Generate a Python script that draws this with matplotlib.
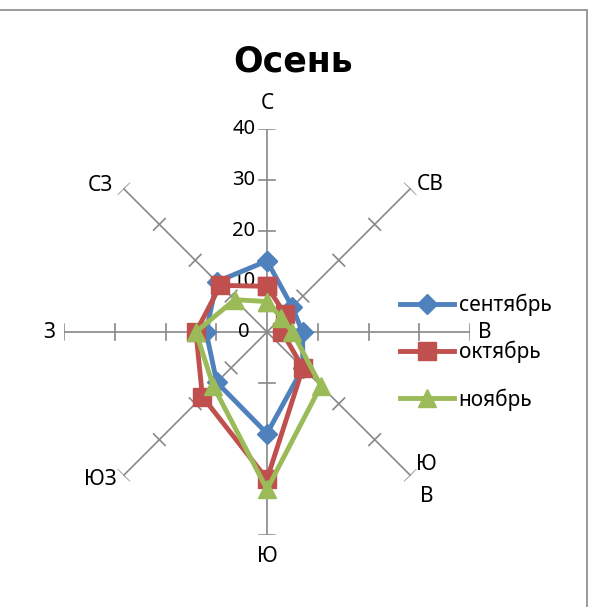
import matplotlib.pyplot as plt
import numpy as np
from matplotlib.lines import Line2D
from matplotlib.patches import Rectangle

plt.rcParams['font.family'] = ['Noto Sans', 'DejaVu Sans']

directions = ['С', 'СВ', 'В', 'ЮВ', 'Ю', 'ЮЗ', 'З', 'СЗ']
sep = [14, 7, 7, 10, 20, 14, 12, 14]
octb = [9, 5, 3, 10, 29, 18, 14, 13]
novb = [6, 4, 5, 15, 31, 15, 14, 9]
months = ['сентябрь', 'октябрь', 'ноябрь']
ticks = [0, 10, 20, 30, 40]

colors = ['#4F81BD', '#C0504D', '#9BBB59']
markers = ['D', 's', '^']
msizes = [10.5, 12.5, 13]
axis_col = '#888888'
fs = 15

fig = plt.figure(figsize=(6.05, 6.07), dpi=100)
W, H = 605, 607
cx, cy, R = 267, 332, 203
ax = fig.add_axes([(cx - R) / W, (H - cy - R) / H, 2 * R / W, 2 * R / H],
                  projection='polar')
ax.set_theta_zero_location('N')
ax.set_theta_direction(-1)
ax.set_ylim(0, 40)
ax.grid(False)
ax.set_xticks([])
ax.set_yticks([])
ax.spines['polar'].set_visible(False)
ax.patch.set_alpha(0)

theta = np.arange(len(directions)) * 2 * np.pi / len(directions)

# spokes with small cross ticks
h = 1.6
for t in theta:
    ax.plot([t, t], [0, 40], color=axis_col, lw=1.2, zorder=1)
    for r in ticks[1:]:
        rr = np.hypot(r, h)
        dt = np.arctan2(h, r)
        ax.plot([t - dt, t + dt], [rr, rr], color=axis_col, lw=1.2, zorder=1)

for r in ticks:
    ax.annotate(str(r), xy=(0, r), xytext=(-23, 0), textcoords='offset pixels',
                ha='center', va='center', fontsize=fs - 0.5)

# category labels (angle in degrees, radius)
lab_pos = [(0, 45.1), (48, 43.4), (90, 43.0), (133, 43.0),
           (180, 44.3), (228.5, 43.9), (270, 42.9), (311.4, 43.8)]
lab_txt = list(directions)
lab_txt[3] = 'Ю\nВ'
for txt, (a, r) in zip(lab_txt, lab_pos):
    ax.text(np.deg2rad(a), r, txt, ha='center', va='center', fontsize=fs,
            linespacing=1.7)

series = [sep, octb, novb]
for vals, c, m, ms, name in zip(series, colors, markers, msizes, months):
    v = vals + vals[:1]
    th = np.append(theta, theta[0])
    ax.plot(th, v, color=c, lw=3.5, marker=m, markersize=ms, label=name,
            zorder=3, clip_on=False)

handles = [Line2D([0], [0], color=c, lw=3.5, marker=m, markersize=ms)
           for c, m, ms in zip(colors, markers, msizes)]
fig.legend(handles, months, loc='center left',
           bbox_to_anchor=(400 / W, 1 - 352 / H), frameon=False,
           fontsize=fs, handlelength=2.6, handletextpad=0.22,
           labelspacing=1.2, borderpad=0, borderaxespad=0)

fig.text(293 / W, 1 - 62 / H, 'Осень', ha='center', va='center',
         fontsize=25, fontweight='bold', family='DejaVu Sans')

fig.patches.append(Rectangle((-5 / W, -5 / H), 592 / W, (H - 9.5 + 5) / H,
                             transform=fig.transFigure, fill=False,
                             edgecolor='#898989', lw=1.2))

fig.savefig('out.png', dpi=100)
